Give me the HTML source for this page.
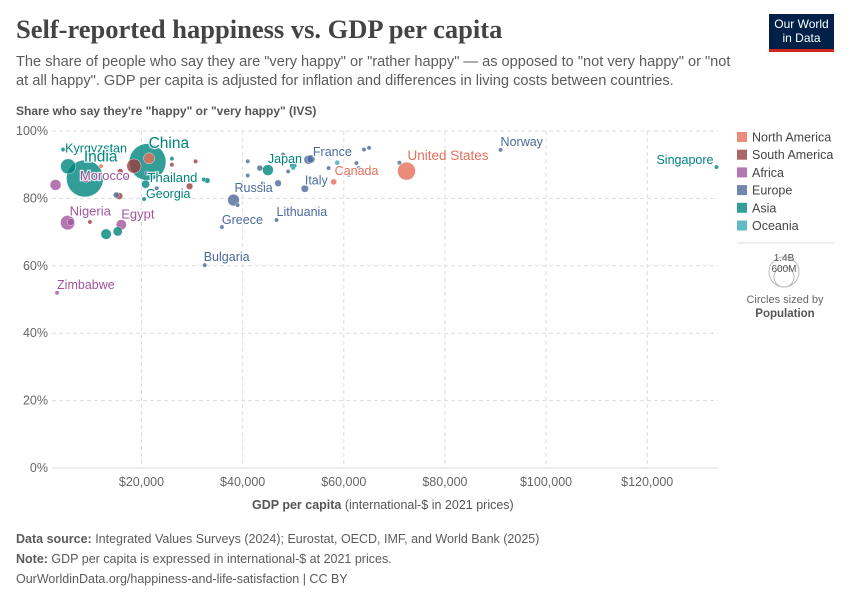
<!DOCTYPE html>
<html><head><meta charset="utf-8"><style>
body{margin:0;background:#fff;font-family:"Liberation Sans",sans-serif;}
#wrap{position:relative;width:850px;height:600px;overflow:hidden}
.t{position:absolute;white-space:nowrap}
</style></head><body><div id="wrap">
<div class="t" style="left:16px;top:14px;font-family:'Liberation Serif',serif;font-size:26.5px;font-weight:bold;color:#444">Self-reported happiness vs. GDP per capita</div>
<div class="t" style="left:16px;top:53px;font-size:14.6px;line-height:19px;color:#5b5b5b;white-space:normal;width:726px">The share of people who say they are "very happy" or "rather happy" — as opposed to "not very happy" or "not at all happy". GDP per capita is adjusted for inflation and differences in living costs between countries.</div>
<div style="position:absolute;left:769px;top:14px;width:65px;height:38px;background:#002147;border-bottom:3px solid #ce261e;color:#fff;font-size:12px;line-height:14px;text-align:center;padding-top:3px;box-sizing:border-box">Our World<br>in Data</div>
<div class="t" style="left:16px;top:104px;font-size:12px;font-weight:bold;color:#555">Share who say they're "happy" or "very happy" (IVS)</div>
<svg id="plot" width="850" height="600" style="position:absolute;left:0;top:0"></svg>
<div class="t" style="left:252px;top:498px;font-size:12.5px;color:#555"><b>GDP per capita</b> (international-$ in 2021 prices)</div>
<div class="t" style="left:16px;top:529px;font-size:12.5px;color:#5b5b5b;line-height:20px"><b>Data source:</b> Integrated Values Surveys (2024); Eurostat, OECD, IMF, and World Bank (2025)<br><b>Note:</b> GDP per capita is expressed in international-$ at 2021 prices.<br>OurWorldinData.org/happiness-and-life-satisfaction | CC BY</div>
</div>
<script>
const regions=["North America","South America","Africa","Europe","Asia","Oceania"];
const regionColors=["#E56E5A","#9A3F3F","#A2559C","#4C6A9C","#00847E","#38AABA"];
const names=["China","India","Pakistan","Kyrgyzstan","Vietnam","Thailand","Georgia","Malaysia","Malaysia2","Japan","Singapore","Iran","Philippines","Kazakhstan","Korea","Nigeria","Ethiopia","Zimbabwe","Egypt","Kenya","Morocco","Brazil","Colombia","Argentina","Chile","Peru","Bolivia","Uruguay","Russia","Greece","Bulgaria","Lithuania","Italy","France","Germany","Poland","Romania","Spain","Czechia","Slovenia","Finland","Sweden","Denmark","Netherlands","Austria","Switzerland","Portugal","Hungary","Estonia","Norway","United States","Canada","Mexico","Guatemala","New Zealand","Australia","Serbia","Ukraine","Belarus","Albania","Iceland"];
const gdp=[21.2,8.8,5.5,4.5,13.5,20.8,20.5,33,32.3,45,133.7,15.3,13,26,50,5.4,3,3.3,16,6,9,18.5,15.6,29.5,30.7,15.8,9.8,26,38.2,35.9,32.5,46.7,52.3,53.5,53,43.4,41,47,49,48,57,64,65,62.5,61,71,41,39,44,91,72.4,58,21.5,12,50,58.7,23,15,21,17,63];
const pct=[90.8,85.9,89.5,94.5,94,84.2,79.8,85.3,85.6,88.4,89.3,70.2,69.4,91.8,89.8,72.8,84,52,72.2,73,85.5,89.6,80.7,83.6,91,88,73,90,79.5,71.5,60.2,73.6,82.9,91.7,91.5,89,86.8,84.5,88,93,89,94.5,95,90.5,87,90.6,91,78,84.5,94.4,88.1,84.9,91.9,89.6,89,90.6,83,81,87.5,86,89];
const reg=[4,4,4,4,4,4,4,4,4,4,4,4,4,4,4,2,2,2,2,2,2,1,1,1,1,1,1,1,3,3,3,3,3,3,3,3,3,3,3,3,3,3,3,3,3,3,3,3,3,3,0,0,0,0,5,5,3,3,3,3,3];
const pop=[1410,1420,240,7,100,71,3.7,34,8,124,6,89,115,20,52,220,125,16,112,54,37,216,52,46,19,34,12,3.4,144,10,6.5,2.8,59,68,84,37,19,48,10.5,2.1,5.5,10.5,5.9,17.8,9,8.8,10.3,9.6,1.3,5.5,335,39,128,18,5.2,26,6.6,38,9,2.8,0.4];
const labels=[["Kyrgyzstan",3,2,3,12.5],["China",0,1,-14,15.5],["India",1,-1,-17,15.5],["Thailand",5,2,-2,13],["Morocco",20,-6,0,13],["Georgia",6,2,-1,12.5],["Nigeria",15,2,-7,13],["Egypt",18,0,-6,13],["Zimbabwe",17,0,-4,12.5],["Russia",28,1,-8,12.5],["Greece",29,0,-3,12.5],["Bulgaria",30,-1,-4,12.5],["Lithuania",31,0,-4,12.5],["Italy",32,0,-4,12.5],["France",33,2,-3,12.5],["Japan",9,0,-7,12.5],["Canada",51,1,-7,12.5],["United States",50,1,-11,13.5],["Norway",49,0,-4,12.5],["Singapore",10,-3,-3,12.5]];
const xTicks=[20,40,60,80,100,120];
const yTicks=[0,20,40,60,80,100];
const X0=52,X1=718,Y0=468,Y1=131,XMIN=2.3,XMAX=134;
const xs=v=>X0+(v-XMIN)/(XMAX-XMIN)*(X1-X0);
const ys=v=>Y0-v/100*(Y0-Y1);
const rs=p=>Math.max(2.2,0.49*Math.sqrt(p));
const svg=document.getElementById('plot');const NS="http://www.w3.org/2000/svg";
function mk(t,a){const e=document.createElementNS(NS,t);for(const k in a)e.setAttribute(k,a[k]);svg.appendChild(e);return e;}
yTicks.forEach(v=>{
 const l=mk('line',{x1:X0,x2:X1,y1:ys(v),y2:ys(v),stroke:'#ddd','stroke-dasharray':v===0?'':'4,3'});
 
 
 const t=mk('text',{x:48,y:ys(v)+4,'text-anchor':'end','font-size':12.5,fill:'#666','font-family':'Liberation Sans'});t.textContent=v+'%';
 
 
});
xTicks.forEach(v=>{
 const l=mk('line',{x1:xs(v),x2:xs(v),y1:Y1,y2:Y0,stroke:'#ddd','stroke-dasharray':'4,3'});
 
 
 const t=mk('text',{x:xs(v),y:486,'text-anchor':'middle','font-size':12.5,fill:'#666','font-family':'Liberation Sans'});t.textContent='$'+v+',000';
 
 
});
const order=pop.map((p,i)=>i).sort((a,b)=>pop[b]-pop[a]);
order.forEach(i=>{
 const c=mk('circle',{cx:xs(gdp[i]),cy:ys(pct[i]),r:rs(pop[i]),fill:regionColors[reg[i]],'fill-opacity':0.8,stroke:'#fff','stroke-width':0.4});
 
 
});
labels.forEach(([txt,i,dx,dy,fs])=>{
 const end=txt==="Singapore";
 const t=mk('text',{x:xs(gdp[i])+dx,y:ys(pct[i])+dy,'font-size':fs,fill:regionColors[reg[i]],'text-anchor':end?'end':'start','font-family':'Liberation Sans',stroke:'#fff','stroke-width':2.5,'stroke-opacity':0.8,'paint-order':'stroke'});
 t.textContent=txt;
 
 
});
regions.forEach((r,k)=>{
 const y=137+k*17.7;
 const s=mk('rect',{x:737,y:y-5,width:10,height:10,fill:regionColors[k],'fill-opacity':0.8});
 
 
 const t=mk('text',{x:752,y:y+4.5,'font-size':12.5,fill:'#444','font-family':'Liberation Sans'});t.textContent=r;
 
 
});
const sep=mk('line',{x1:737,x2:834,y1:243,y2:243,stroke:'#ddd'});


[[15,'1.4B'],[10,'600M']].forEach(([r,l],k)=>{
 const c=mk('circle',{cx:784,cy:287-r,r:r,fill:'none',stroke:'#bbb'});
 
 
 const t=mk('text',{x:784,y:k?272:261,'font-size':10,fill:'#555','text-anchor':'middle','font-family':'Liberation Sans'});t.textContent=l;
 
 
});
const a=mk('text',{x:785,y:303,'font-size':11,fill:'#666','text-anchor':'middle','font-family':'Liberation Sans'});a.textContent='Circles sized by';


const b=mk('text',{x:785,y:317,'font-size':11.5,fill:'#555','font-weight':'bold','text-anchor':'middle','font-family':'Liberation Sans'});b.textContent='Population';


</script></body></html>
